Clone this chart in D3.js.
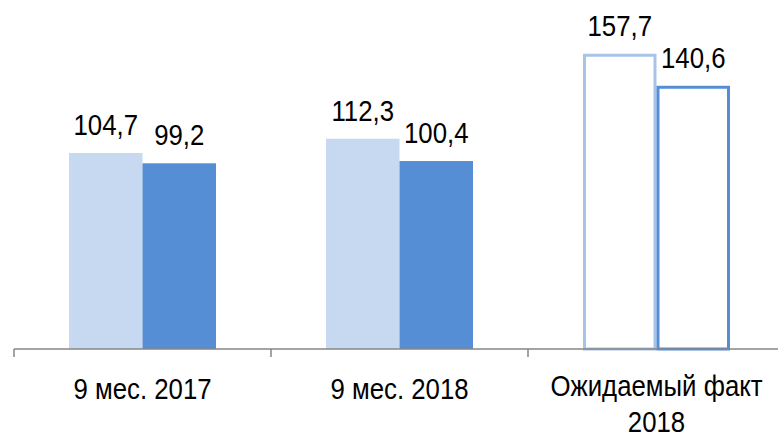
<!DOCTYPE html>
<html>
<head>
<meta charset="utf-8">
<script src="https://cdn.jsdelivr.net/npm/d3@7"></script>
<style>
  body { margin: 0; background: #fff; }
  svg text { font-family: "Liberation Sans", Arial, sans-serif; fill: #000; }
</style>
</head>
<body>
<div id="chart"></div>
<script>
// categories and the two series (first = light, second = dark)
const categories = ['9 мес. 2017', '9 мес. 2018', 'Ожидаемый факт 2018'];
const seriesA = [104.7, 112.3, 157.7];
const seriesB = [99.2, 100.4, 140.6];
const expected = [false, false, true]; // last group is a forecast, drawn as outline
const categoryLines = [['9 мес. 2017'], ['9 мес. 2018'], ['Ожидаемый факт', '2018']];

const width = 778, height = 437;
const baseY = 349;
const narrow = 0.86; // squeeze Liberation Sans to look like Arial Narrow

const svg = d3.select('#chart').append('svg')
  .attr('width', width)
  .attr('height', height);

const x = d3.scaleBand()
  .domain(categories)
  .range([14, 785])
  .paddingInner(0.428)
  .paddingOuter(0.214);

const xSub = d3.scaleBand()
  .domain(['a', 'b'])
  .range([0, x.bandwidth()]);

const y = d3.scaleLinear()
  .domain([0, 180])
  .range([baseY, 12]);

const colors = { a: '#c6d9f0', b: '#558ed5' };
const strokes = { a: '#a7c3e8', b: '#558ed5' };

const label = (parent, cx, cy, txt) => parent.append('text')
  .attr('transform', 'translate(' + cx + ',' + cy + ') scale(' + narrow + ',1)')
  .attr('text-anchor', 'middle')
  .style('font-size', '30px')
  .text(txt);

const data = categories.map((c, i) => ({
  cat: c, expected: expected[i],
  values: [{ key: 'a', value: seriesA[i] }, { key: 'b', value: seriesB[i] }]
}));

const groups = svg.append('g').selectAll('g')
  .data(data)
  .enter().append('g')
  .attr('transform', d => 'translate(' + x(d.cat) + ',0)');

groups.each(function(g) {
  const sel = d3.select(this);
  g.values.forEach(v => {
    if (g.expected) {
      sel.append('rect')
        .attr('x', xSub(v.key) + 1.5)
        .attr('y', y(v.value) + 1.5)
        .attr('width', xSub.bandwidth() - 3)
        .attr('height', baseY - y(v.value) - 1.5)
        .attr('fill', '#fff')
        .attr('stroke', strokes[v.key])
        .attr('stroke-width', 3);
    } else {
      sel.append('rect')
        .attr('x', xSub(v.key))
        .attr('y', y(v.value))
        .attr('width', xSub.bandwidth())
        .attr('height', baseY - y(v.value))
        .attr('fill', colors[v.key]);
    }
    label(sel, xSub(v.key) + xSub.bandwidth() / 2, y(v.value) - 18,
      d3.format('.1f')(v.value).replace('.', ','));
  });
});

// x axis: line plus ticks between categories
const step = x.step();
const ticks = d3.range(categories.length + 1).map(i => 14 + i * step);
const axis = svg.append('g');
axis.append('line')
  .attr('x1', 14).attr('x2', width)
  .attr('y1', baseY).attr('y2', baseY)
  .attr('stroke', '#868686').attr('stroke-width', 1.5);
axis.selectAll('.tick')
  .data(ticks)
  .enter().append('line')
  .attr('x1', d => d).attr('x2', d => d)
  .attr('y1', baseY).attr('y2', baseY + 8)
  .attr('stroke', '#868686').attr('stroke-width', 1.5);

categories.forEach((c, i) => {
  const cx = x(c) + x.bandwidth() / 2;
  const lines = categoryLines[i];
  if (lines.length > 1) {
    label(svg, cx, 396, lines[0]);
    label(svg, cx, 432, lines[1]);
  } else {
    label(svg, cx, 399, lines[0]);
  }
});
</script>
</body>
</html>
